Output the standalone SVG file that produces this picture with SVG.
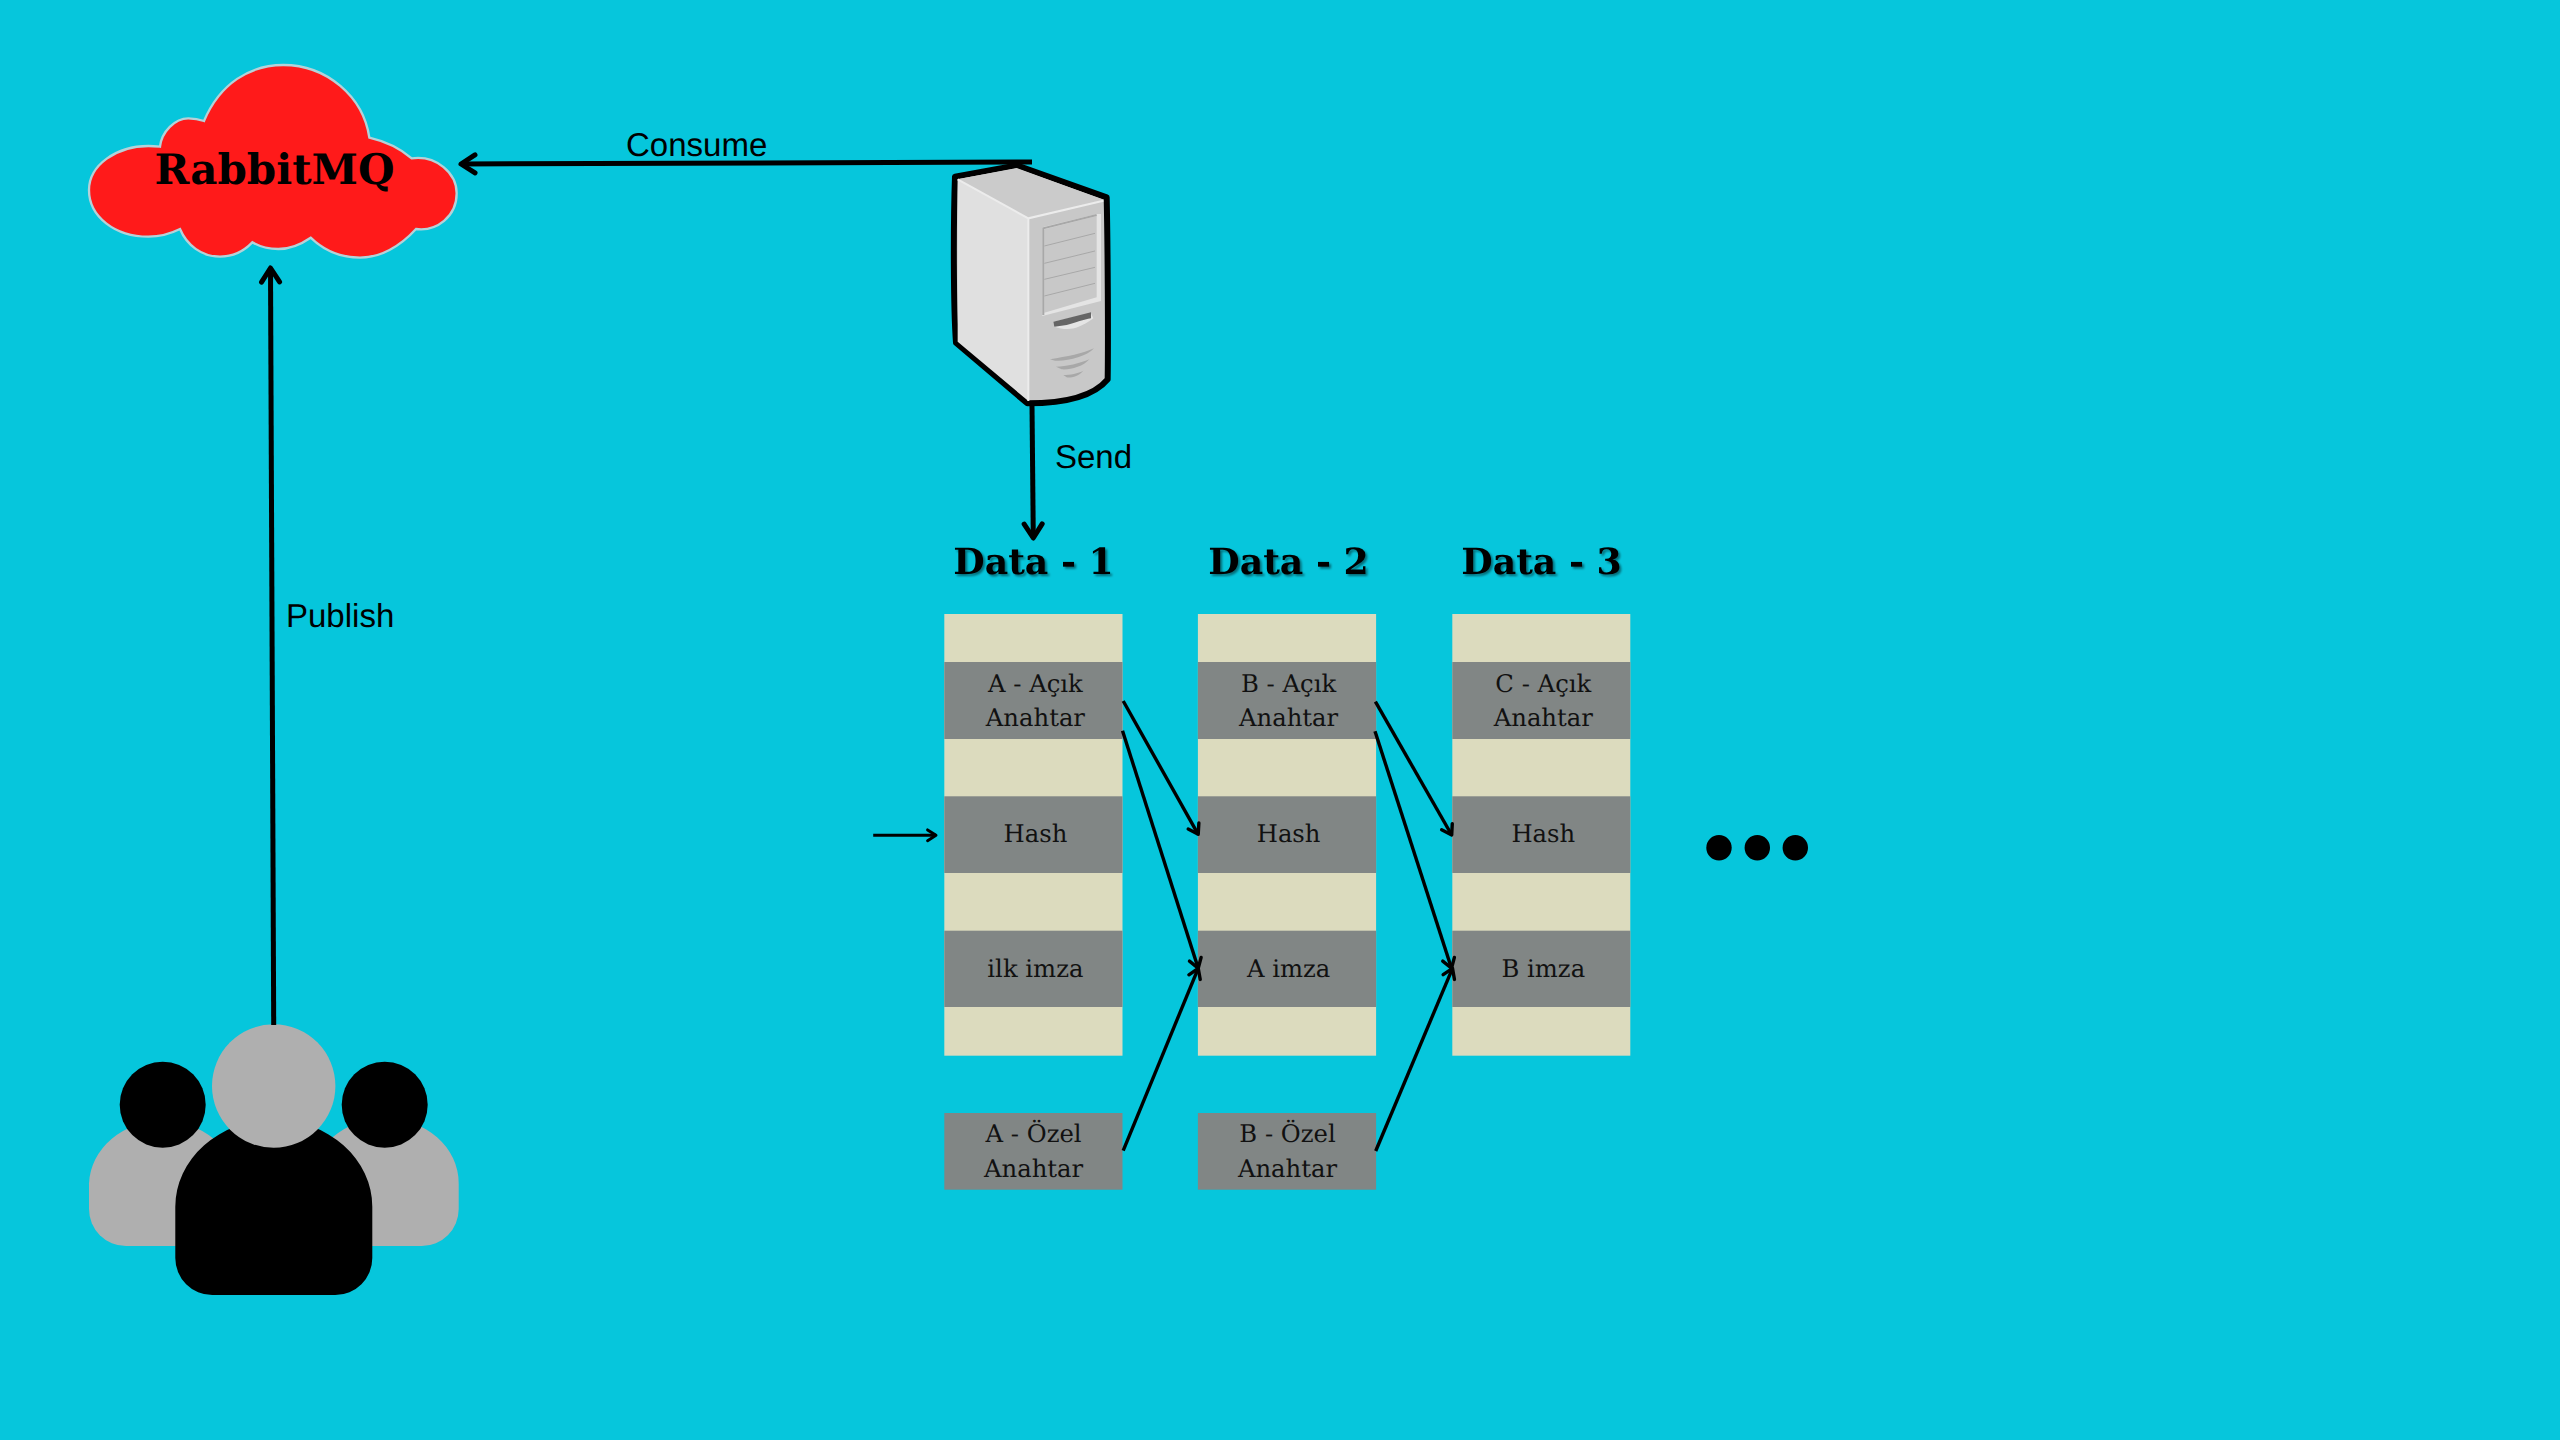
<svg xmlns="http://www.w3.org/2000/svg" width="2560" height="1440" viewBox="0 0 2560 1440">
<style>
.c{fill:#dcdbbe}
.g{fill:#818685}
text{text-rendering:geometricPrecision}
.t{font-family:"DejaVu Serif",serif;font-size:24.300px;fill:#111;text-anchor:middle}
.h{font-family:"DejaVu Serif",serif;font-weight:bold;font-size:36.200px;fill:#000;text-anchor:middle;filter:url(#sh)}
.l{font-family:"Liberation Sans",Arial,sans-serif;font-size:33px;fill:#000}
.a{fill:none;stroke:#000;stroke-width:5;marker-end:url(#ah)}
.b{fill:none;stroke:#000;stroke-width:3.400;marker-end:url(#ah)}
.i{fill:none;stroke:#000;stroke-width:3;marker-end:url(#ah)}
.vl{stroke:#a8a8a8;stroke-width:3;fill:none}
</style>
<defs>
<marker id="ah" viewBox="-4 -3 5 6" refX="0" refY="0" markerWidth="5" markerHeight="6" orient="auto" overflow="visible">
<path d="M-2.800-1.800L0 0L-2.800 1.800" fill="none" stroke="#000" stroke-width="1" stroke-linecap="round" stroke-linejoin="round"/>
</marker>
<filter id="sh" x="-10%" y="-20%" width="120%" height="140%"><feDropShadow dx="2" dy="2" stdDeviation="1" flood-color="#000" flood-opacity=".45"/></filter>
</defs>
<rect width="2560" height="1440" fill="#06c6dc"/>

<g id="rabbitmq">
<path transform="translate(60 40) scale(.33333)" fill="#ff1a1a" stroke="#b4d2d9" stroke-width="7" d="M432 243C480 130 570 75 670 75C800 75 910 170 928 293C980 305 1020 325 1055 355C1130 345 1190 400 1190 460C1190 530 1130 575 1068 567C1020 620 960 653 900 653C840 653 790 630 752 593C720 615 690 627 655 627C625 627 600 620 577 607C550 635 515 650 480 650C425 650 380 615 360 567C330 582 300 590 265 590C165 590 87 530 87 450C87 375 170 318 265 318C278 318 290 319 300 320C305 275 345 235 385 235C402 235 418 238 432 243Z"/>
<text x="274.500" y="184" text-anchor="middle" font-family="'DejaVu Serif',serif" font-weight="bold" font-size="42" fill="#000">RabbitMQ</text>
</g>

<g id="server" transform="translate(920 140) scale(.33333)">
<path d="M105 110L290 76L560 172C563 300 565 600 563 718C520 770 430 790 322 790L108 608C100 500 100 250 105 110Z" fill="#c8c8c8" stroke="#000" stroke-width="18" stroke-linejoin="round"/>
<path d="M113 118L290 84L552 180L325 235Z" fill="#cbcbcb"/>
<path d="M113 118L325 235V783L113 605Z" fill="#e0e0e0"/>
<path d="M113 118L325 235L550 182M325 235V783" fill="none" stroke="#ececec" stroke-width="6"/>
<path d="M367 262L530 222H543V483L367 528Z" fill="#e4e4e4"/>
<path d="M373 268L530 228V472L373 518Z" fill="#c8c8c8"/>
<path d="M370 525V265L530 225" class="vl" style="stroke-width:6"/>
<path d="M373 318L525 280M373 370L525 333M373 418L525 382M373 468L525 430" class="vl"/>
<path d="M403 560C440 572 470 572 520 535L513 520L400 545Z" fill="#e5e5e5"/>
<path d="M400 545L513 517V535C490 538 470 548 440 555L403 560Z" fill="#666"/>
<path d="M390 658C440 650 490 640 522 625C500 650 440 665 405 662ZM408 680C440 680 480 670 508 658C490 680 450 690 425 688ZM430 705C450 705 475 700 490 692C478 708 450 715 440 712Z" fill="#a8a8a8"/>
</g>

<g id="users">
<path d="M89 1183.300A73.700 65 0 0 1 236.300 1183.300V1246H126A37 37 0 0 1 89 1209Z" fill="#afafaf"/>
<path d="M311 1183.300A73.700 65 0 0 1 458.700 1183.300V1209A37 37 0 0 1 421.700 1246H311Z" fill="#afafaf"/>
<path d="M175.300 1206.700A98.500 87 0 0 1 372.300 1206.700V1258A37 37 0 0 1 335.300 1295H212.300A37 37 0 0 1 175.300 1258Z" fill="#000"/>
<circle cx="162.700" cy="1104.700" r="43" fill="#000"/>
<circle cx="384.700" cy="1104.700" r="43" fill="#000"/>
<circle cx="273.700" cy="1086" r="61.700" fill="#afafaf"/>
</g>

<g id="data-1">
<text class="h" x="1033.500" y="574">Data - 1</text>
<rect class="c" x="944.300" y="614" width="178.200" height="441.700"/>
<rect class="g" x="944.300" y="662" width="178.200" height="77"/>
<rect class="g" x="944.300" y="796.300" width="178.200" height="76.700"/>
<rect class="g" x="944.300" y="930.700" width="178.200" height="76.300"/>
<text class="t" x="1035.400" y="692">A - Açık</text>
<text class="t" x="1035.400" y="726">Anahtar</text>
<text class="t" x="1035.400" y="842">Hash</text>
<text class="t" x="1035.400" y="977">ilk imza</text>
</g>
<g id="data-2">
<text class="h" x="1288.500" y="574">Data - 2</text>
<rect class="c" x="1197.900" y="614" width="178.200" height="441.700"/>
<rect class="g" x="1197.900" y="662" width="178.200" height="77"/>
<rect class="g" x="1197.900" y="796.300" width="178.200" height="76.700"/>
<rect class="g" x="1197.900" y="930.700" width="178.200" height="76.300"/>
<text class="t" x="1288.600" y="692">B - Açık</text>
<text class="t" x="1288.600" y="726">Anahtar</text>
<text class="t" x="1288.600" y="842">Hash</text>
<text class="t" x="1288.600" y="977">A imza</text>
</g>
<g id="data-3">
<text class="h" x="1541.500" y="574">Data - 3</text>
<rect class="c" x="1452.300" y="614" width="178" height="441.700"/>
<rect class="g" x="1452.300" y="662" width="178" height="77"/>
<rect class="g" x="1452.300" y="796.300" width="178" height="76.700"/>
<rect class="g" x="1452.300" y="930.700" width="178" height="76.300"/>
<text class="t" x="1543.300" y="692">C - Açık</text>
<text class="t" x="1543.300" y="726">Anahtar</text>
<text class="t" x="1543.300" y="842">Hash</text>
<text class="t" x="1543.300" y="977">B imza</text>
</g>
<g id="private-a">
<rect class="g" x="944.300" y="1113" width="178.200" height="76.700"/>
<text class="t" x="1033.600" y="1142">A - Özel</text>
<text class="t" x="1033.600" y="1177">Anahtar</text>
</g>
<g id="private-b">
<rect class="g" x="1197.900" y="1113" width="178.200" height="76.700"/>
<text class="t" x="1287.500" y="1142">B - Özel</text>
<text class="t" x="1287.500" y="1177">Anahtar</text>
</g>
<g id="more">
<circle cx="1719" cy="847.700" r="12.700" fill="#000"/>
<circle cx="1757.300" cy="847.700" r="12.700" fill="#000"/>
<circle cx="1795.300" cy="847.700" r="12.700" fill="#000"/>
</g>

<g id="connectors">
<path class="a" d="M1032 162L461 164"/>
<path class="a" d="M273.700 1025L270.500 268"/>
<path class="a" d="M1032 405L1033.300 538"/>
<path class="i" d="M873.200 835.300H936"/>
<path class="b" d="M1123.200 701L1198.200 834.300"/>
<path class="b" d="M1122.500 730.700L1198.200 968.300"/>
<path class="b" d="M1123.200 1150.700L1198.200 968.300"/>
<path class="b" d="M1375.400 701.700L1451.700 835"/>
<path class="b" d="M1375 731.300L1451.500 968.300"/>
<path class="b" d="M1375.700 1151L1452.500 968.300"/>
</g>
<g id="labels">
<text class="l" x="626" y="156">Consume</text>
<text class="l" x="286" y="627">Publish</text>
<text class="l" x="1055" y="468">Send</text>
</g>
</svg>
